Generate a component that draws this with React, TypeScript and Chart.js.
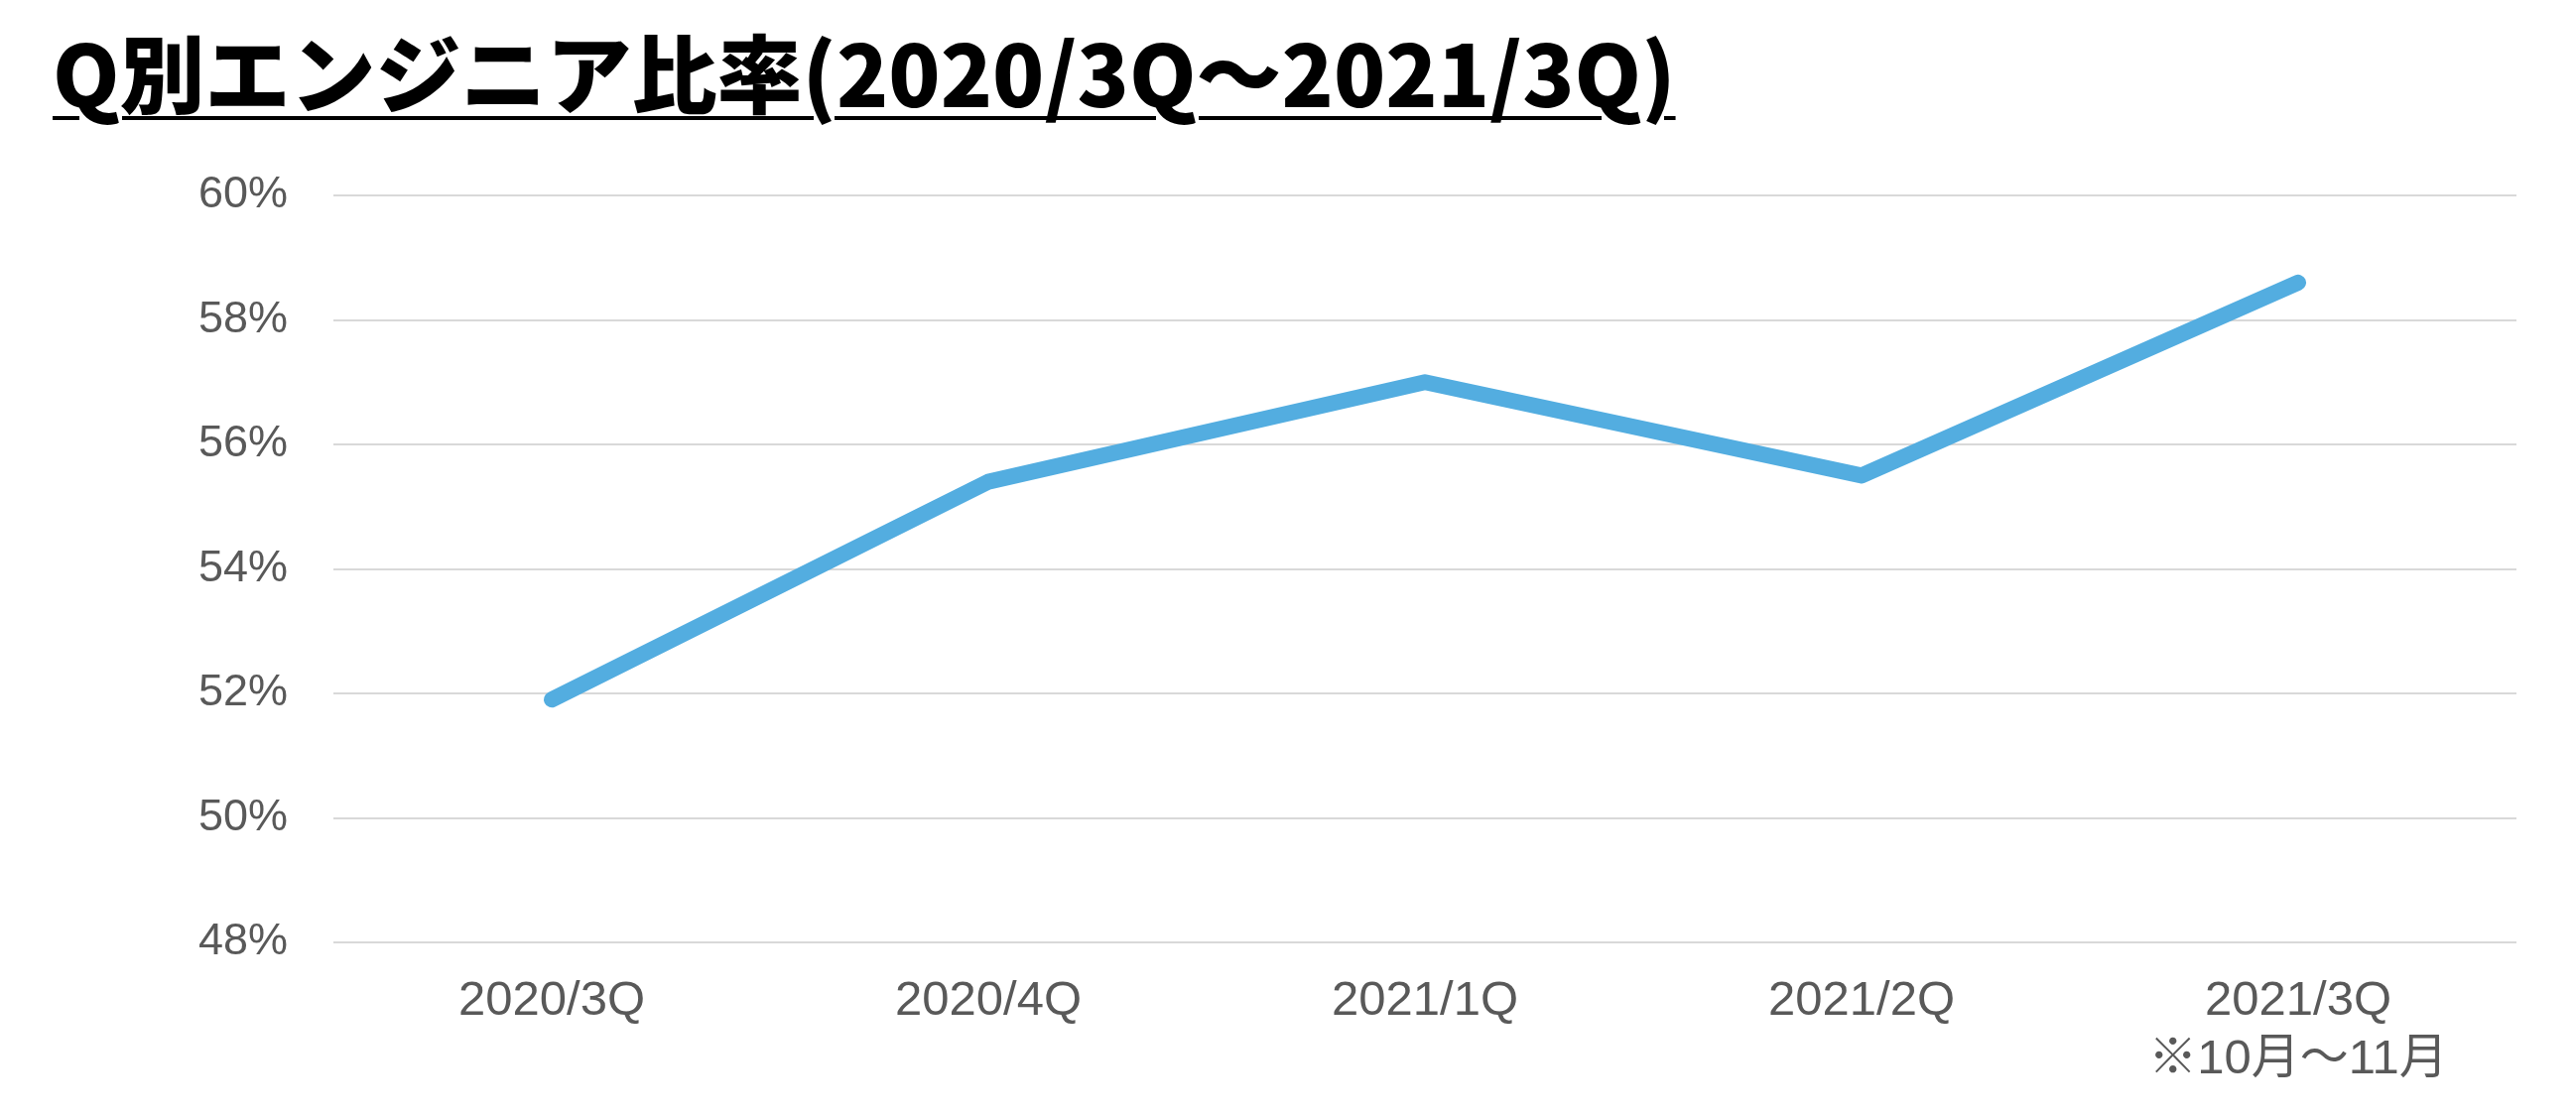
import React, { useEffect, useRef } from "react";
import { Chart, registerables } from "chart.js";

Chart.register(...registerables);

const TITLE = "Q別エンジニア比率(2020/3Q〜2021/3Q)";
const categories: (string | string[])[] = [
  "2020/3Q",
  "2020/4Q",
  "2021/1Q",
  "2021/2Q",
  ["2021/3Q", "※10月〜11月"],
];
const engineerRatio = [51.9, 55.4, 57.0, 55.5, 58.6];
const yMin = 48;
const yMax = 60;
const yStep = 2;

const LABEL_FONT = '"Liberation Sans", Arial, "Noto Sans CJK JP", sans-serif';

export default function App() {
  const canvasRef = useRef<HTMLCanvasElement | null>(null);

  useEffect(() => {
    if (!canvasRef.current) return;
    const chart = new Chart(canvasRef.current, {
      type: "line",
      data: {
        labels: categories,
        datasets: [
          {
            data: engineerRatio,
            borderColor: "#53ADE0",
            backgroundColor: "#53ADE0",
            borderWidth: 16,
            borderCapStyle: "round",
            borderJoinStyle: "round",
            pointRadius: 0,
            pointHoverRadius: 0,
            tension: 0,
            fill: false,
          },
        ],
      },
      options: {
        animation: false,
        responsive: false,
        maintainAspectRatio: false,
        layout: { padding: { left: 0, right: 60, top: 197, bottom: 0 } },
        plugins: {
          legend: { display: false },
          tooltip: { enabled: false },
          title: { display: false },
        },
        scales: {
          x: {
            offset: true,
            grid: { display: false, drawTicks: false },
            border: { display: false },
            ticks: {
              color: "#595959",
              font: { family: LABEL_FONT, size: 49, lineHeight: 1.2 },
              padding: 30,
              maxRotation: 0,
              autoSkip: false,
            },
            afterFit: (scale: any) => {
              scale.height = 174;
            },
          },
          y: {
            min: yMin,
            max: yMax,
            grid: { color: "#D9D9D9", lineWidth: 2, drawTicks: false },
            border: { display: false },
            ticks: {
              stepSize: yStep,
              color: "#595959",
              font: { family: LABEL_FONT, size: 45 },
              padding: 46,
              callback: (v: any) => `${v}%`,
            },
            afterFit: (scale: any) => {
              scale.width = 336;
            },
          },
        },
      },
    });
    return () => chart.destroy();
  }, []);

  return (
    <div
      style={{
        position: "fixed",
        left: 0,
        top: 0,
        width: 2596,
        height: 1124,
        background: "#ffffff",
        overflow: "hidden",
      }}
    >
      <canvas
        ref={canvasRef}
        width={2596}
        height={1124}
        style={{ position: "absolute", left: 0, top: 0, width: 2596, height: 1124 }}
      />
      <div
        style={{
          position: "absolute",
          left: 53,
          top: 28,
          fontFamily: '"Noto Sans CJK JP", sans-serif',
          fontWeight: 900,
          fontSize: 86,
          lineHeight: 1,
          color: "#000000",
          whiteSpace: "nowrap",
          textDecoration: "underline",
          textDecorationThickness: "4px",
          textUnderlineOffset: "9px",
        }}
      >
        {TITLE}
      </div>
    </div>
  );
}
